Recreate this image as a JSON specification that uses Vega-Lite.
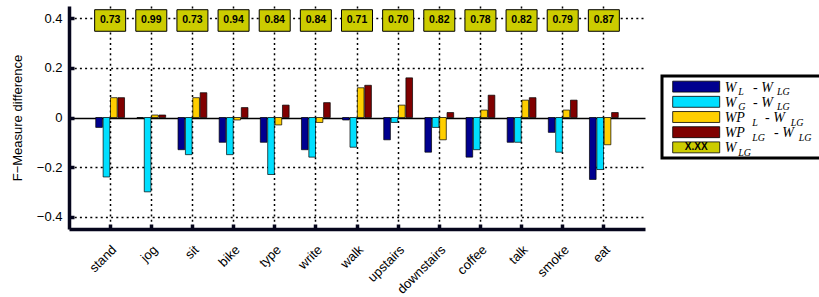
{
  "$schema": "https://vega.github.io/schema/vega-lite/v6.json",
  "padding": {"left": 11, "top": 6, "right": 0, "bottom": 0},
  "background": "white",
  "config": {"font": "Liberation Sans", "view": {"stroke": null}},
  "datasets": {
    "bars": [
      {"activity": "stand", "series": "W_L - W_LG", "value": -0.04},
      {"activity": "stand", "series": "W_G - W_LG", "value": -0.24},
      {"activity": "stand", "series": "WP_L - W_LG", "value": 0.08},
      {"activity": "stand", "series": "WP_LG - W_LG", "value": 0.08},
      {"activity": "jog", "series": "W_L - W_LG", "value": 0.0},
      {"activity": "jog", "series": "W_G - W_LG", "value": -0.30},
      {"activity": "jog", "series": "WP_L - W_LG", "value": 0.01},
      {"activity": "jog", "series": "WP_LG - W_LG", "value": 0.01},
      {"activity": "sit", "series": "W_L - W_LG", "value": -0.13},
      {"activity": "sit", "series": "W_G - W_LG", "value": -0.15},
      {"activity": "sit", "series": "WP_L - W_LG", "value": 0.08},
      {"activity": "sit", "series": "WP_LG - W_LG", "value": 0.10},
      {"activity": "bike", "series": "W_L - W_LG", "value": -0.10},
      {"activity": "bike", "series": "W_G - W_LG", "value": -0.15},
      {"activity": "bike", "series": "WP_L - W_LG", "value": -0.01},
      {"activity": "bike", "series": "WP_LG - W_LG", "value": 0.04},
      {"activity": "type", "series": "W_L - W_LG", "value": -0.10},
      {"activity": "type", "series": "W_G - W_LG", "value": -0.23},
      {"activity": "type", "series": "WP_L - W_LG", "value": -0.03},
      {"activity": "type", "series": "WP_LG - W_LG", "value": 0.05},
      {"activity": "write", "series": "W_L - W_LG", "value": -0.13},
      {"activity": "write", "series": "W_G - W_LG", "value": -0.16},
      {"activity": "write", "series": "WP_L - W_LG", "value": -0.02},
      {"activity": "write", "series": "WP_LG - W_LG", "value": 0.06},
      {"activity": "walk", "series": "W_L - W_LG", "value": -0.01},
      {"activity": "walk", "series": "W_G - W_LG", "value": -0.12},
      {"activity": "walk", "series": "WP_L - W_LG", "value": 0.12},
      {"activity": "walk", "series": "WP_LG - W_LG", "value": 0.13},
      {"activity": "upstairs", "series": "W_L - W_LG", "value": -0.09},
      {"activity": "upstairs", "series": "W_G - W_LG", "value": -0.02},
      {"activity": "upstairs", "series": "WP_L - W_LG", "value": 0.05},
      {"activity": "upstairs", "series": "WP_LG - W_LG", "value": 0.16},
      {"activity": "downstairs", "series": "W_L - W_LG", "value": -0.14},
      {"activity": "downstairs", "series": "W_G - W_LG", "value": -0.04},
      {"activity": "downstairs", "series": "WP_L - W_LG", "value": -0.09},
      {"activity": "downstairs", "series": "WP_LG - W_LG", "value": 0.02},
      {"activity": "coffee", "series": "W_L - W_LG", "value": -0.16},
      {"activity": "coffee", "series": "W_G - W_LG", "value": -0.13},
      {"activity": "coffee", "series": "WP_L - W_LG", "value": 0.03},
      {"activity": "coffee", "series": "WP_LG - W_LG", "value": 0.09},
      {"activity": "talk", "series": "W_L - W_LG", "value": -0.10},
      {"activity": "talk", "series": "W_G - W_LG", "value": -0.10},
      {"activity": "talk", "series": "WP_L - W_LG", "value": 0.07},
      {"activity": "talk", "series": "WP_LG - W_LG", "value": 0.08},
      {"activity": "smoke", "series": "W_L - W_LG", "value": -0.06},
      {"activity": "smoke", "series": "W_G - W_LG", "value": -0.14},
      {"activity": "smoke", "series": "WP_L - W_LG", "value": 0.03},
      {"activity": "smoke", "series": "WP_LG - W_LG", "value": 0.07},
      {"activity": "eat", "series": "W_L - W_LG", "value": -0.25},
      {"activity": "eat", "series": "W_G - W_LG", "value": -0.21},
      {"activity": "eat", "series": "WP_L - W_LG", "value": -0.11},
      {"activity": "eat", "series": "WP_LG - W_LG", "value": 0.02}
    ],
    "wlg": [
      {"activity": "stand", "wlg": "0.73"},
      {"activity": "jog", "wlg": "0.99"},
      {"activity": "sit", "wlg": "0.73"},
      {"activity": "bike", "wlg": "0.94"},
      {"activity": "type", "wlg": "0.84"},
      {"activity": "write", "wlg": "0.84"},
      {"activity": "walk", "wlg": "0.71"},
      {"activity": "upstairs", "wlg": "0.70"},
      {"activity": "downstairs", "wlg": "0.82"},
      {"activity": "coffee", "wlg": "0.78"},
      {"activity": "talk", "wlg": "0.82"},
      {"activity": "smoke", "wlg": "0.79"},
      {"activity": "eat", "wlg": "0.87"}
    ],
    "leg": [
      {"series": "W_L - W_LG", "m1": "W", "s1": "L", "g": "a"},
      {"series": "W_G - W_LG", "m1": "W", "s1": "G", "g": "a"},
      {"series": "WP_L - W_LG", "m1": "WP", "s1": "L", "g": "b"},
      {"series": "WP_LG - W_LG", "m1": "WP", "s1": "LG", "g": "c"},
      {"series": "W_LG", "m1": "W", "s1": "LG", "g": "d"}
    ]
  },
  "hconcat": [
    {
      "width": 576,
      "height": 223,
      "layer": [
        {
          "data": {"name": "bars"},
          "mark": {"type": "bar", "stroke": "black", "strokeWidth": 0.7},
          "encoding": {
            "x": {
              "field": "activity", "type": "nominal",
              "sort": ["stand","jog","sit","bike","type","write","walk","upstairs","downstairs","coffee","talk","smoke","eat"],
              "scale": {"paddingInner": 0.3, "paddingOuter": 0.65},
              "title": null,
              "axis": {
                "labelAngle": -45, "labelAlign": "right", "labelBaseline": "top",
                "labelFontSize": 13, "labelColor": "black", "labelPadding": 19, "labelDx": 3,
                "domain": true, "domainColor": "#06061c", "domainWidth": 3.5, "domainOpacity": 1,
                "ticks": true, "tickColor": "#06061c", "tickWidth": 3.5, "tickSize": -5, "tickOpacity": 1,
                "grid": true, "gridColor": "black", "gridDash": [2, 3.2], "gridWidth": 1.5, "gridOpacity": 1
              }
            },
            "xOffset": {
              "field": "series", "type": "nominal",
              "sort": ["W_L - W_LG","W_G - W_LG","WP_L - W_LG","WP_LG - W_LG"],
              "scale": {"domain": ["W_L - W_LG","W_G - W_LG","WP_L - W_LG","WP_LG - W_LG"], "paddingInner": 0.1}
            },
            "y": {
              "field": "value", "type": "quantitative",
              "scale": {"domain": [-0.45, 0.45], "nice": false, "zero": false},
              "title": "F\u2212Measure difference",
              "axis": {
                "values": [-0.4, -0.2, 0, 0.2, 0.4], "format": ".1~f",
                "labelFontSize": 13, "labelColor": "black", "labelPadding": 12,
                "titleFontSize": 13, "titleFontWeight": "normal", "titleColor": "black", "titlePadding": 12,
                "domain": true, "domainColor": "#06061c", "domainWidth": 3.5, "domainOpacity": 1,
                "ticks": true, "tickColor": "#06061c", "tickWidth": 3.5, "tickSize": -5, "tickOpacity": 1,
                "grid": true, "gridColor": "black", "gridWidth": 1.5, "gridOpacity": 1,
                "gridDash": {"condition": {"test": "datum.value === 0", "value": []}, "value": [2, 3.2]}
              }
            },
            "color": {
              "field": "series", "type": "nominal",
              "scale": {"domain": ["W_L - W_LG","W_G - W_LG","WP_L - W_LG","WP_LG - W_LG","W_LG"],
                        "range": ["#00008F","#00DFFF","#FFCF00","#800000","#CCCC00"]},
              "legend": null
            }
          }
        },
        {
          "data": {"name": "wlg"},
          "mark": {"type": "bar", "width": 31, "fill": "#CCCC00", "stroke": "black", "strokeWidth": 1},
          "encoding": {
            "x": {"field": "activity", "type": "nominal", "sort": ["stand","jog","sit","bike","type","write","walk","upstairs","downstairs","coffee","talk","smoke","eat"]},
            "y": {"datum": 0.435},
            "y2": {"datum": 0.348}
          }
        },
        {
          "data": {"name": "wlg"},
          "mark": {"type": "text", "font": "Liberation Sans", "fontWeight": "bold", "fontSize": 10.5, "color": "black", "baseline": "middle"},
          "encoding": {
            "x": {"field": "activity", "type": "nominal", "sort": ["stand","jog","sit","bike","type","write","walk","upstairs","downstairs","coffee","talk","smoke","eat"]},
            "y": {"datum": 0.392},
            "text": {"field": "wlg"}
          }
        }
      ]
    },
    {
      "spacing": 0,
      "vconcat": [
        {
          "width": 159, "height": 68,
          "data": {"values": []},
          "mark": "point"
        },
        {
          "width": 159, "height": 82,
          "view": {"stroke": "black", "strokeWidth": 3},
          "data": {"name": "leg"},
          "encoding": {
            "y": {"field": "series", "type": "nominal", "sort": null,
                  "scale": {"domain": ["W_L - W_LG","W_G - W_LG","WP_L - W_LG","WP_LG - W_LG","W_LG"], "paddingInner": 0.28, "paddingOuter": 0.34},
                  "axis": null}
          },
          "layer": [
            {
              "mark": {"type": "bar", "stroke": "black", "strokeWidth": 0.8},
              "encoding": {
                "x": {"datum": 10.7, "type": "quantitative", "scale": {"domain": [0, 159], "nice": false, "zero": false}, "axis": null},
                "x2": {"datum": 57.7},
                "color": {"field": "series", "type": "nominal",
                  "scale": {"domain": ["W_L - W_LG","W_G - W_LG","WP_L - W_LG","WP_LG - W_LG","W_LG"],
                            "range": ["#00008F","#00DFFF","#FFCF00","#800000","#CCCC00"]},
                  "legend": null}
              }
            },
            {
              "transform": [{"filter": "datum.g == 'd'"}],
              "mark": {"type": "text", "font": "Liberation Sans", "fontWeight": "bold", "fontSize": 10, "color": "black", "align": "center", "baseline": "middle"},
              "encoding": {"x": {"datum": 34.2, "type": "quantitative"}, "text": {"value": "X.XX"}}
            },
            {
              "mark": {"type": "text", "font": "Liberation Serif", "fontStyle": "italic", "fontSize": 14, "color": "black", "align": "left", "baseline": "alphabetic", "dy": 5},
              "encoding": {"x": {"datum": 62.7, "type": "quantitative"}, "text": {"field": "m1"}}
            },
            {
              "transform": [{"filter": "datum.m1 == 'W'"}],
              "mark": {"type": "text", "font": "Liberation Serif", "fontStyle": "italic", "fontSize": 10, "color": "black", "align": "left", "baseline": "alphabetic", "dy": 8.5, "dx": 13.5},
              "encoding": {"x": {"datum": 62.7, "type": "quantitative"}, "text": {"field": "s1"}}
            },
            {
              "transform": [{"filter": "datum.m1 == 'WP'"}],
              "mark": {"type": "text", "font": "Liberation Serif", "fontStyle": "italic", "fontSize": 10, "color": "black", "align": "left", "baseline": "alphabetic", "dy": 8.5, "dx": 27.5},
              "encoding": {"x": {"datum": 62.7, "type": "quantitative"}, "text": {"field": "s1"}}
            },
            {
              "transform": [{"filter": "datum.g == 'a'"}],
              "mark": {"type": "text", "font": "Liberation Serif", "fontStyle": "italic", "fontSize": 14, "color": "black", "align": "left", "baseline": "alphabetic", "dy": 5, "dx": 28.3},
              "encoding": {"x": {"datum": 62.7, "type": "quantitative"}, "text": {"value": "- W"}}
            },
            {
              "transform": [{"filter": "datum.g == 'a'"}],
              "mark": {"type": "text", "font": "Liberation Serif", "fontStyle": "italic", "fontSize": 10, "color": "black", "align": "left", "baseline": "alphabetic", "dy": 8.5, "dx": 52.3},
              "encoding": {"x": {"datum": 62.7, "type": "quantitative"}, "text": {"value": "LG"}}
            },
            {
              "transform": [{"filter": "datum.g == 'b'"}],
              "mark": {"type": "text", "font": "Liberation Serif", "fontStyle": "italic", "fontSize": 14, "color": "black", "align": "left", "baseline": "alphabetic", "dy": 5, "dx": 40.3},
              "encoding": {"x": {"datum": 62.7, "type": "quantitative"}, "text": {"value": "- W"}}
            },
            {
              "transform": [{"filter": "datum.g == 'b'"}],
              "mark": {"type": "text", "font": "Liberation Serif", "fontStyle": "italic", "fontSize": 10, "color": "black", "align": "left", "baseline": "alphabetic", "dy": 8.5, "dx": 66},
              "encoding": {"x": {"datum": 62.7, "type": "quantitative"}, "text": {"value": "LG"}}
            },
            {
              "transform": [{"filter": "datum.g == 'c'"}],
              "mark": {"type": "text", "font": "Liberation Serif", "fontStyle": "italic", "fontSize": 14, "color": "black", "align": "left", "baseline": "alphabetic", "dy": 5, "dx": 49.3},
              "encoding": {"x": {"datum": 62.7, "type": "quantitative"}, "text": {"value": "- W"}}
            },
            {
              "transform": [{"filter": "datum.g == 'c'"}],
              "mark": {"type": "text", "font": "Liberation Serif", "fontStyle": "italic", "fontSize": 10, "color": "black", "align": "left", "baseline": "alphabetic", "dy": 8.5, "dx": 74},
              "encoding": {"x": {"datum": 62.7, "type": "quantitative"}, "text": {"value": "LG"}}
            }
          ]
        }
      ]
    }
  ],
  "spacing": 15
}
